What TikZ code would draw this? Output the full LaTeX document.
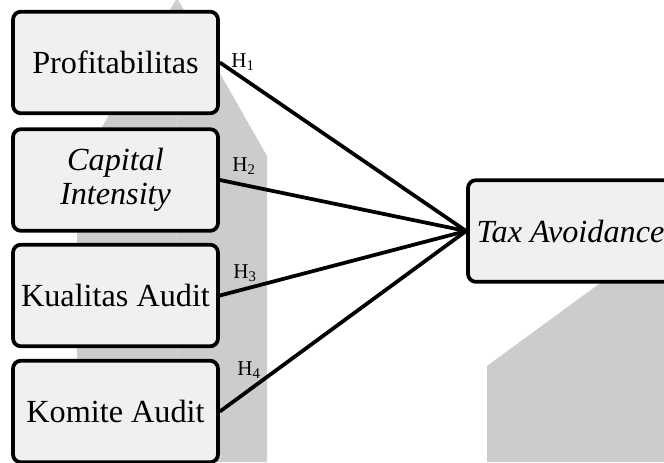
\documentclass[tikz,border=0pt]{standalone}
\usepackage{fontspec}
\setmainfont{Liberation Serif}
\definecolor{boxfill}{RGB}{240,240,240}
\definecolor{bggray}{RGB}{204,204,204}
\definecolor{bgline}{RGB}{214,214,214}

\begin{document}
\begin{tikzpicture}[x=0.03cm, y=-0.03cm]
\tikzstyle{var}=[draw, line width=3.2pt, rounded corners=0.24cm, fill=boxfill, minimum width=6.15cm, minimum height=3.05cm, align=center, inner sep=2pt, font=\fontsize{27.5}{29}\selectfont]
\tikzstyle{hyp}=[font=\fontsize{18}{20}\selectfont, inner sep=0pt]
\tikzstyle{link}=[line width=3.2pt]
\useasboundingbox (0,0) rectangle (664,462);

% background shapes
\fill[bggray] (177,-2) -- (267,156) -- (267,462) -- (77,462) -- (77,170) -- cycle;
\draw[bgline, line width=0.6pt] (177,-2) -- (177,462);
\fill[bggray] (487,462) -- (487,366) -- (603,281) -- (664,281) -- (664,462) -- cycle;

\node[var] (P) at (115.5,62.5) {Profitabilitas};
\node[var] (C) at (115.5,180) {\textit{Capital}\\\textit{Intensity}};
\node[var] (K) at (115.5,295.5) {Kualitas Audit};
\node[var] (M) at (115.5,411.5) {Komite Audit};
\node[var] (T) at (570.5,231) {\textit{Tax Avoidance}};

\draw[link] (P.east)--(T.west);
\draw[link] (C.east)--(T.west);
\draw[link] (K.east)--(T.west);
\draw[link] (M.east)--(T.west);

\node[hyp] (H1) at (243,62) {H\textsubscript{1}};
\node[hyp] (H2) at (244,166) {H\textsubscript{2}};
\node[hyp] (H3) at (245,273) {H\textsubscript{3}};
\node[hyp] (H4) at (249,370) {H\textsubscript{4}};
\end{tikzpicture}
\end{document}
